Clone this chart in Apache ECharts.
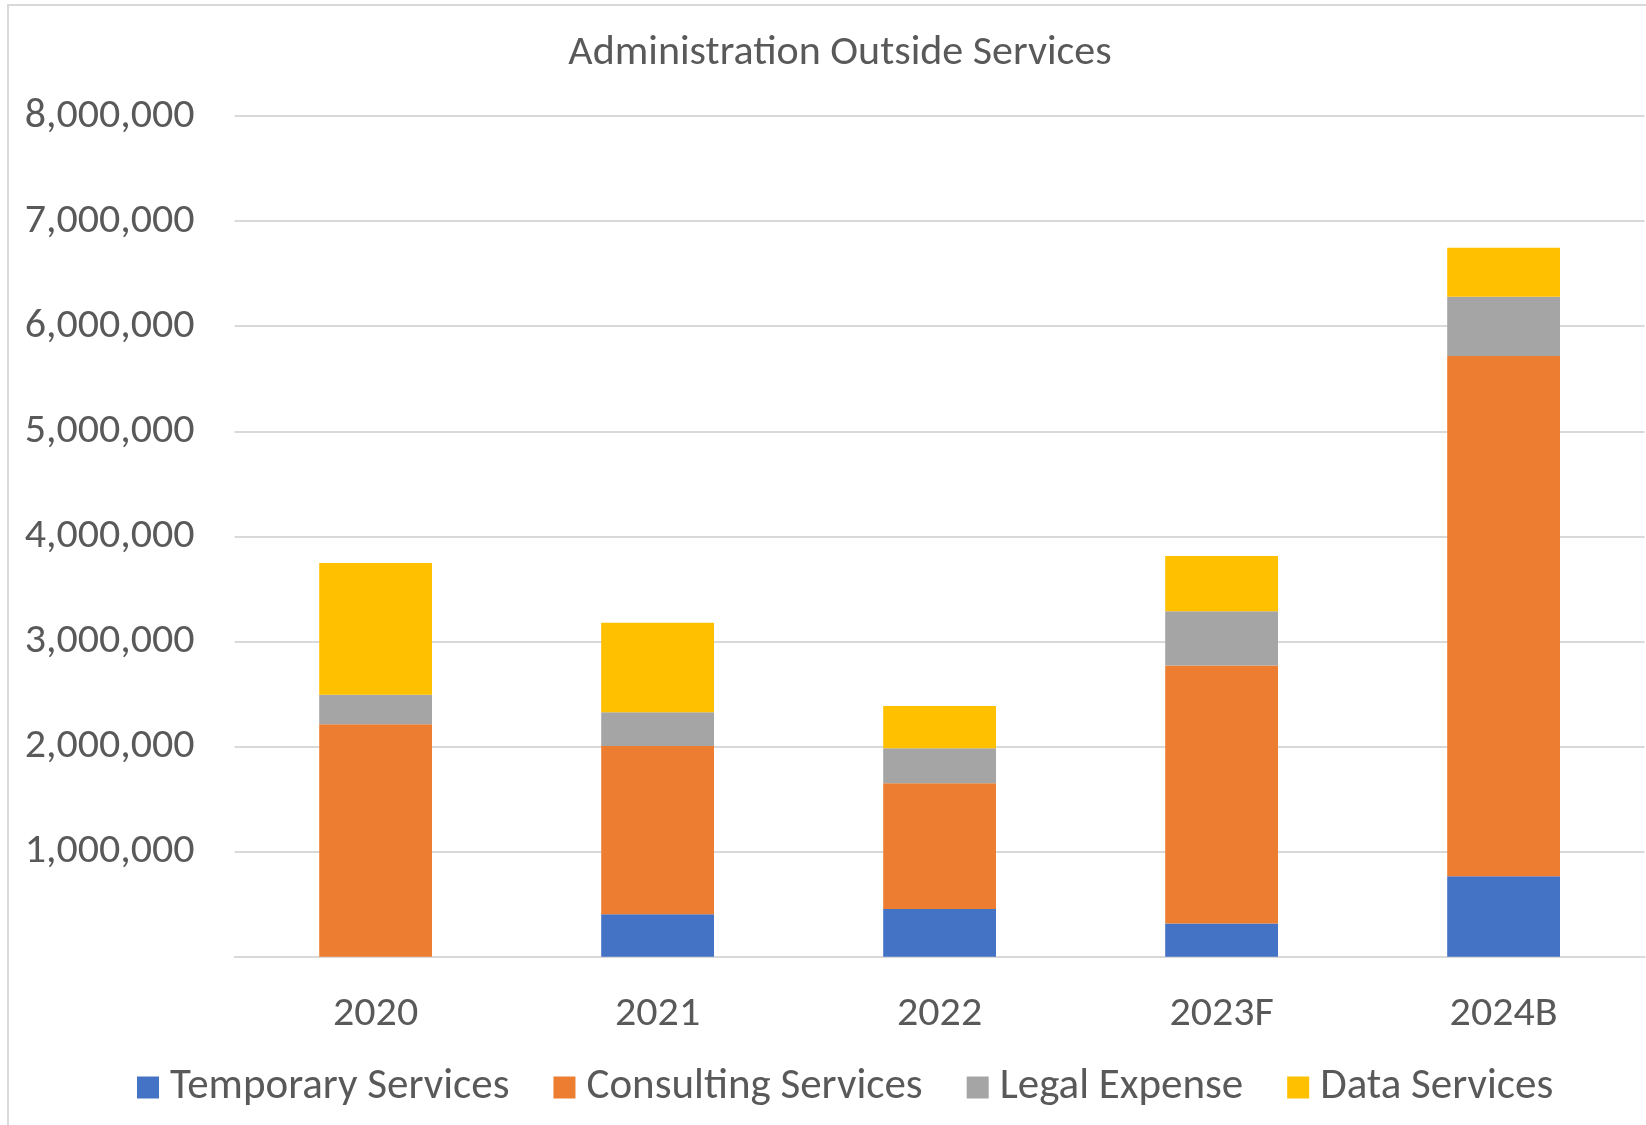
<!DOCTYPE html>
<html>
<head>
<meta charset="utf-8">
<script src="https://cdn.jsdelivr.net/npm/echarts@6/dist/echarts.min.js"></script>
<style>
  html, body { margin: 0; padding: 0; background: #fff; }
  #chart { width: 1646px; height: 1125px; }
</style>
</head>
<body>
<div id="chart"></div>
<script>
// Fiscal periods (F = forecast, B = budget)
const categories = ['2020', '2021', '2022', '2023F', '2024B'];

// Spend by service type
const temporaryServices  = [0,       404000,  454000,  315000,  766000];
const consultingServices = [2212000, 1601000, 1196000, 2455000, 4951000];
const legalExpense       = [280000,  320000,  334000,  517000,  564000];
const dataServices       = [1254000, 853000,  402000,  527000,  465000];

// Value axis ticks
const axisMin = 0;
const axisMax = 8000000;
const axisStep = 1000000;

const FONT = 'Carlito, Lato, "Open Sans", sans-serif';
const TEXT = '#595959';
const GRID = '#d9d9d9';

const chart = echarts.init(document.getElementById('chart'));

function makeSeries(name, values, color) {
  return {
    name: name,
    type: 'bar',
    stack: 'total',
    barWidth: '40%',
    itemStyle: { color: color },
    data: values
  };
}

chart.setOption({
  backgroundColor: '#ffffff',
  animation: false,
  title: {
    text: 'Administration Outside Services',
    left: 835,
    top: 27,
    textAlign: 'center',
    textStyle: { fontFamily: FONT, fontSize: 42, fontWeight: 'normal', color: TEXT }
  },
  legend: {
    left: 132,
    top: 1061,
    itemWidth: 22,
    itemHeight: 22,
    itemGap: 44,
    icon: 'rect',
    textStyle: { fontFamily: FONT, fontSize: 43, color: TEXT, padding: [0, 0, 0, 6] },
    data: ['Temporary Services', 'Consulting Services', 'Legal Expense', 'Data Services']
  },
  grid: {
    left: 234.6,
    right: 1.4,
    top: 116,
    bottom: 168.3,
    containLabel: false
  },
  graphic: [{
    type: 'rect',
    silent: true,
    z: -1,
    shape: { x: 8, y: 5, width: 1700, height: 1200 },
    style: { fill: 'none', stroke: GRID, lineWidth: 2 }
  }],
  xAxis: {
    type: 'category',
    data: categories,
    axisTick: { show: false },
    axisLine: { show: true, lineStyle: { color: GRID, width: 2 } },
    axisLabel: { margin: 37, fontFamily: FONT, fontSize: 42, color: TEXT }
  },
  yAxis: {
    type: 'value',
    min: axisMin,
    max: axisMax,
    interval: axisStep,
    axisLine: { show: false },
    axisTick: { show: false },
    splitLine: { lineStyle: { color: GRID, width: 2 } },
    axisLabel: {
      margin: 40,
      fontFamily: FONT,
      fontSize: 42,
      color: TEXT,
      padding: [8, 0, 0, 0],
      formatter: function (v) {
        return v === 0 ? '' : v.toString().replace(/\B(?=(\d{3})+(?!\d))/g, ',');
      }
    }
  },
  series: [
    makeSeries('Temporary Services', temporaryServices, '#4472C4'),
    makeSeries('Consulting Services', consultingServices, '#ED7D31'),
    makeSeries('Legal Expense', legalExpense, '#A5A5A5'),
    makeSeries('Data Services', dataServices, '#FFC000')
  ]
});
</script>
</body>
</html>
